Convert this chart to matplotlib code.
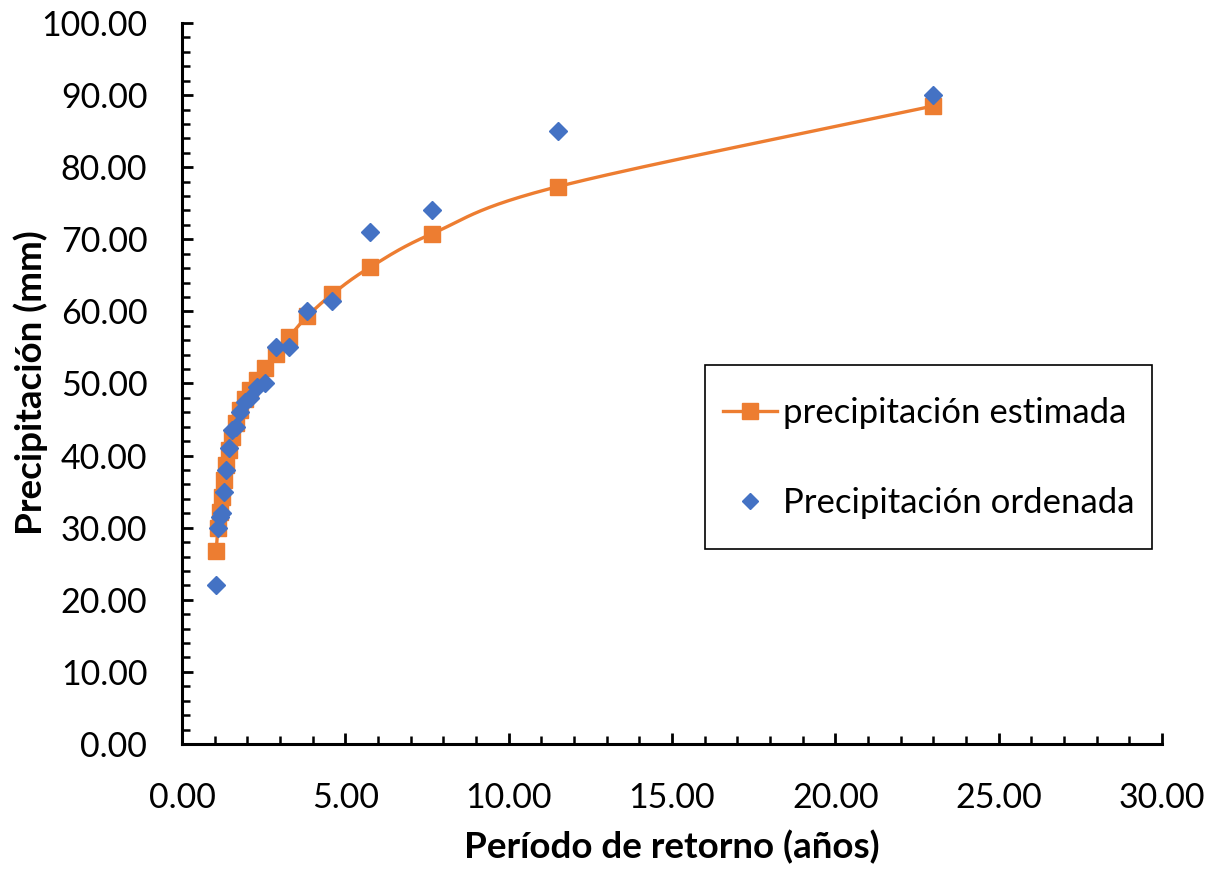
import numpy as np
import matplotlib
matplotlib.use("Agg")
import matplotlib.pyplot as plt
from matplotlib.patches import Rectangle
from matplotlib.ticker import MultipleLocator, FormatStrFormatter

plt.rcParams['font.family'] = ['Lato', 'DejaVu Sans']

# Return period (years) for each ranked value, T = (n + 1) / m
periodo = [23.0, 11.5, 7.667, 5.75, 4.6, 3.833, 3.286, 2.875, 2.556, 2.3, 2.091,
           1.917, 1.769, 1.643, 1.533, 1.438, 1.353, 1.278, 1.211, 1.15, 1.095, 1.045]
# Observed precipitation, sorted in descending order (mm)
prec_ordenada = [90.0, 85.0, 74.0, 71.0, 61.5, 60.0, 55.0, 55.0, 50.0, 49.5, 48.0,
                 47.5, 46.0, 44.0, 43.5, 41.0, 38.0, 35.0, 32.0, 31.5, 30.0, 22.0]
# Estimated precipitation for the same return periods (mm)
prec_estimada = [88.5, 77.3, 70.8, 66.1, 62.4, 59.3, 56.5, 54.1, 52.1, 50.5, 49.1,
                 47.8, 46.3, 44.5, 42.6, 40.8, 38.7, 36.6, 34.3, 32.2, 29.9, 26.7]

naranja = '#ED7D31'
azul = '#4472C4'
W, H = 1214, 871


def suavizar(x, y, pasos=30, tension=0.5):
    """Cardinal (Catmull-Rom style) spline through the given points."""
    x = np.asarray(x, float)
    y = np.asarray(y, float)
    orden = np.argsort(x)
    x, y = x[orden], y[orden]
    px = np.concatenate([[2 * x[0] - x[1]], x, [2 * x[-1] - x[-2]]])
    py = np.concatenate([[2 * y[0] - y[1]], y, [2 * y[-1] - y[-2]]])
    xs, ys = [], []
    t = np.linspace(0, 1, pasos)
    for i in range(1, len(px) - 2):
        p0, p1, p2, p3 = (np.array([px[j], py[j]]) for j in range(i - 1, i + 3))
        m1 = tension * (p2 - p0)
        m2 = tension * (p3 - p1)
        h00 = 2 * t**3 - 3 * t**2 + 1
        h10 = t**3 - 2 * t**2 + t
        h01 = -2 * t**3 + 3 * t**2
        h11 = t**3 - t**2
        seg = (np.outer(h00, p1) + np.outer(h10, m1) + np.outer(h01, p2) + np.outer(h11, m2))
        xs.append(seg[:, 0])
        ys.append(seg[:, 1])
    return np.concatenate(xs), np.concatenate(ys)


fig = plt.figure(figsize=(W / 100, H / 100), dpi=100)
ax = fig.add_axes([182 / W, 1 - 744 / H, (1162 - 182) / W, (744 - 23) / H])

sx, sy = suavizar(periodo, prec_estimada)
ax.plot(sx, sy, color=naranja, lw=2.4, zorder=2)
ax.plot(periodo, prec_estimada, linestyle='none', marker='s', markersize=11.5,
        color=naranja, zorder=3)
ax.plot(periodo, prec_ordenada, linestyle='none', marker='D', markersize=9.5,
        color=azul, zorder=4)

# Legend: entries without frame, boxed by a separate rectangle
h1, = ax.plot([], [], color=naranja, lw=2.4, marker='s', markersize=11.5)
h2, = ax.plot([], [], linestyle='none', marker='D', markersize=8.5, color=azul)
leg = fig.legend([h1, h2], ['precipitación estimada', 'Precipitación ordenada'],
                 loc='center', bbox_to_anchor=((705 + 1152) / 2 / W, 1 - 458 / H),
                 fontsize=25, frameon=False, borderpad=0,
                 labelspacing=1.68, handlelength=1.55, handletextpad=0.18,
                 borderaxespad=0)
fig.patches.append(Rectangle((705 / W, 1 - 549 / H), (1152 - 705) / W, (549 - 365) / H,
                             transform=fig.transFigure, fill=False,
                             edgecolor='black', linewidth=1.2))

ax.set_xlim(0, 30)
ax.set_ylim(0, 100)
ax.xaxis.set_major_locator(MultipleLocator(5))
ax.xaxis.set_minor_locator(MultipleLocator(1))
ax.yaxis.set_major_locator(MultipleLocator(10))
ax.yaxis.set_minor_locator(MultipleLocator(2))
ax.xaxis.set_major_formatter(FormatStrFormatter('%.2f'))
ax.yaxis.set_major_formatter(FormatStrFormatter('%.2f'))

for lado in ['top', 'right']:
    ax.spines[lado].set_visible(False)
for lado in ['left', 'bottom']:
    ax.spines[lado].set_linewidth(2.2)

ax.tick_params(axis='both', which='major', direction='in', length=8, width=2,
               labelsize=24.5)
ax.tick_params(axis='both', which='minor', direction='in', length=5.5, width=1.8)
ax.tick_params(axis='x', which='major', pad=27)
ax.tick_params(axis='y', which='major', pad=25)

ax.set_xlabel('Período de retorno (años)', fontsize=26.5, fontweight='bold', labelpad=12)
ax.set_ylabel('Precipitación (mm)', fontsize=26.5, fontweight='bold', va='center')
ax.yaxis.set_label_coords(31 / W, 0.5, transform=fig.transFigure)
ax.yaxis.label.set_y(1 - 383 / H)

fig.savefig('out.png', dpi=100)
